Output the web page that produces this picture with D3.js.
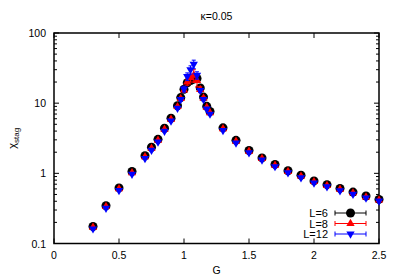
<!DOCTYPE html>
<html>
<head>
<meta charset="utf-8">
<script src="https://cdn.jsdelivr.net/npm/d3@7"></script>
<style>
  body { margin: 0; background: #fff; }
  svg { display: block; font-family: "Liberation Sans", Arial, sans-serif; }
</style>
</head>
<body>
<div id="chart"></div>
<script>
// G values shared by all three lattice sizes
const gVals = [0.3, 0.4, 0.5, 0.6, 0.7, 0.75, 0.8, 0.85, 0.9, 0.95, 0.975, 1.0, 1.025, 1.05, 1.075, 1.1, 1.125, 1.15, 1.175, 1.2,
  1.3, 1.4, 1.5, 1.6, 1.7, 1.8, 1.9, 2.0, 2.1, 2.2, 2.3, 2.4, 2.5];

const chiL6 = [0.175, 0.345, 0.62, 1.06, 1.78, 2.35, 3.05, 4.4, 6.1, 9.2, 12.0, 15.8, 19.5, 21, 22, 22.5, 16.5, 12.2, 9.0, 7.6,
  4.45, 2.95, 2.12, 1.66, 1.34, 1.09, 0.94, 0.78, 0.69, 0.61, 0.54, 0.475, 0.425];
const errL6 = [0.005, 0.01, 0.02, 0.03, 0.05, 0.06, 0.08, 0.1, 0.15, 0.25, 0.4, 0.6, 1.0, 1.2, 1.2, 1.2, 0.8, 0.5, 0.3, 0.2,
  0.1, 0.06, 0.04, 0.03, 0.02, 0.02, 0.02, 0.01, 0.01, 0.01, 0.01, 0.01, 0.01];

const chiL8 = [0.17, 0.335, 0.6, 1.02, 1.72, 2.27, 2.95, 4.25, 5.9, 8.9, 11.6, 15.3, 20, 23, 25, 21, 15.6, 11.8, 8.7, 7.3,
  4.3, 2.85, 2.06, 1.62, 1.3, 1.06, 0.91, 0.76, 0.67, 0.59, 0.525, 0.46, 0.415];
const errL8 = [0.005, 0.01, 0.02, 0.03, 0.05, 0.06, 0.08, 0.1, 0.15, 0.25, 0.5, 0.8, 2.0, 3.0, 5.0, 4.0, 1.5, 0.6, 0.3, 0.2,
  0.1, 0.06, 0.04, 0.03, 0.02, 0.02, 0.02, 0.01, 0.01, 0.01, 0.01, 0.01, 0.01];

const chiL12 = [0.162, 0.318, 0.57, 0.97, 1.63, 2.14, 2.8, 4.0, 5.6, 8.5, 11.3, 16, 24, 30, 36, 25, 15.2, 11.3, 8.3, 7.0,
  4.1, 2.72, 1.97, 1.55, 1.25, 1.02, 0.87, 0.73, 0.645, 0.565, 0.505, 0.445, 0.405];
const errL12 = [0.005, 0.01, 0.02, 0.03, 0.05, 0.06, 0.08, 0.1, 0.15, 0.3, 0.6, 1.5, 3.0, 4.0, 5.0, 3.0, 1.0, 0.5, 0.3, 0.2,
  0.1, 0.06, 0.04, 0.03, 0.02, 0.02, 0.02, 0.01, 0.01, 0.01, 0.01, 0.01, 0.01];

const seriesNames = ['L=6', 'L=8', 'L=12'];
const seriesColors = ['#000000', '#ff0000', '#0000ff'];
const seriesShapes = ['circle', 'triangleUp', 'triangleDown'];
const xTicks = [0, 0.5, 1, 1.5, 2, 2.5];
const yTicks = [0.1, 1, 10, 100];
const title = 'κ=0.05';

(function() {
  const W = 399, H = 279;
  const pl = 54, pr = 379, pt = 33, pb = 243.5;

  const svg = d3.select('#chart').append('svg')
    .attr('width', W).attr('height', H);

  const x = d3.scaleLinear().domain([0, 2.5]).range([pl, pr]);
  const y = d3.scaleLog().domain([0.1, 100]).range([pb, pt]);

  // ticks (inward, mirrored)
  const tickG = svg.append('g').attr('stroke', '#000').attr('stroke-width', 1);
  xTicks.forEach(t => {
    tickG.append('line').attr('x1', x(t)).attr('x2', x(t)).attr('y1', pb).attr('y2', pb - 5);
    tickG.append('line').attr('x1', x(t)).attr('x2', x(t)).attr('y1', pt).attr('y2', pt + 5);
  });
  const minor = [];
  [0.1, 1, 10].forEach(d => { for (let k = 2; k <= 9; k++) minor.push(d * k); });
  yTicks.forEach(t => {
    tickG.append('line').attr('x1', pl).attr('x2', pl + 5).attr('y1', y(t)).attr('y2', y(t));
    tickG.append('line').attr('x1', pr).attr('x2', pr - 5).attr('y1', y(t)).attr('y2', y(t));
  });
  minor.forEach(t => {
    tickG.append('line').attr('x1', pl).attr('x2', pl + 3).attr('y1', y(t)).attr('y2', y(t));
    tickG.append('line').attr('x1', pr).attr('x2', pr - 3).attr('y1', y(t)).attr('y2', y(t));
  });

  // tick labels
  svg.append('g').selectAll('text').data(xTicks).enter().append('text')
    .attr('x', d => x(d)).attr('y', pb + 15)
    .attr('text-anchor', 'middle').attr('font-size', '10.5px').attr('fill', '#000')
    .text(d => d);
  svg.append('g').selectAll('text').data(yTicks).enter().append('text')
    .attr('x', pl - 8).attr('y', d => y(d) + 4)
    .attr('text-anchor', 'end').attr('font-size', '10.5px').attr('fill', '#000')
    .text(d => d);

  // frame
  svg.append('rect')
    .attr('x', pl).attr('y', pt).attr('width', pr - pl).attr('height', pb - pt)
    .attr('fill', 'none').attr('stroke', '#000').attr('stroke-width', 1.5);

  // labels
  svg.append('text').attr('x', (pl + pr) / 2).attr('y', 20)
    .attr('text-anchor', 'middle').attr('font-size', '10.5px').text(title);
  svg.append('text').attr('x', (pl + pr) / 2).attr('y', 274)
    .attr('text-anchor', 'middle').attr('font-size', '10.5px').text('G');
  const yl = svg.append('text')
    .attr('transform', `translate(16,${(pt + pb) / 2}) rotate(-90)`)
    .attr('text-anchor', 'middle').attr('font-size', '11px');
  yl.append('tspan').text('χ');
  yl.append('tspan').attr('font-size', '8px').attr('dy', 3).text('stag');

  const symbols = {
    circle: d3.symbol(d3.symbolCircle, 64)(),
    triangleUp: d3.symbol(d3.symbolTriangle, 30)(),
    triangleDown: d3.symbol(d3.symbolTriangle, 30)()
  };

  function drawMarker(g, shape, color, cx, cy) {
    g.append('path').attr('d', symbols[shape])
      .attr('transform', `translate(${cx},${cy})` + (shape === 'triangleDown' ? ' rotate(180)' : ''))
      .attr('fill', color);
  }

  const allSeries = [chiL6, chiL8, chiL12];
  const allErr = [errL6, errL8, errL12];
  const plot = svg.append('g');
  allSeries.forEach((vals, si) => {
    const color = seriesColors[si];
    const g = plot.append('g');
    vals.forEach((v, i) => {
      const e = allErr[si][i];
      const px = x(gVals[i]);
      g.append('line').attr('x1', px).attr('x2', px)
        .attr('y1', y(v + e)).attr('y2', y(Math.max(v - e, 0.101)))
        .attr('stroke', color).attr('stroke-width', 1);
      g.append('line').attr('x1', px - 2).attr('x2', px + 2).attr('y1', y(v + e)).attr('y2', y(v + e))
        .attr('stroke', color).attr('stroke-width', 1);
      g.append('line').attr('x1', px - 2).attr('x2', px + 2).attr('y1', y(v - e)).attr('y2', y(v - e))
        .attr('stroke', color).attr('stroke-width', 1);
      drawMarker(g, seriesShapes[si], color, px, y(v));
    });
  });

  // legend
  const leg = svg.append('g');
  seriesNames.forEach((name, i) => {
    const ly = 213 + i * 10.5;
    leg.append('text').attr('x', 328).attr('y', ly + 4)
      .attr('text-anchor', 'end').attr('font-size', '11px').text(name);
    leg.append('line').attr('x1', 335).attr('x2', 366).attr('y1', ly).attr('y2', ly)
      .attr('stroke', seriesColors[i]).attr('stroke-width', 1);
    [335, 366].forEach(ex => leg.append('line').attr('x1', ex).attr('x2', ex)
      .attr('y1', ly - 2.5).attr('y2', ly + 2.5).attr('stroke', seriesColors[i]).attr('stroke-width', 1));
    drawMarker(leg, seriesShapes[i], seriesColors[i], 350.5, ly);
  });
})();
</script>
</body>
</html>
